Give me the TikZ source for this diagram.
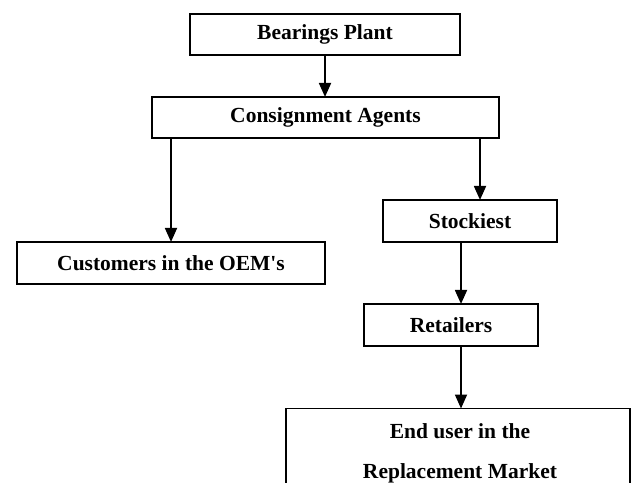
\documentclass[tikz,border=0pt]{standalone}
\usepackage{fontspec}
\setmainfont{Liberation Serif}
\usetikzlibrary{arrows.meta,calc}
\newcommand{\straightapos}{\XeTeXglyph\XeTeXcharglyph"0027\relax}
\begin{document}
\begin{tikzpicture}[x=1pt,y=-1pt,
  box/.style={draw=black,line width=1.1pt,fill=white,inner sep=0pt,font=\fontsize{21.5}{25}\selectfont\bfseries},
  lbl/.style={inner sep=0pt,font=\fontsize{21.5}{40}\selectfont\bfseries},
  arr/.style={draw=black,line width=1.8pt,-{Triangle[length=14pt,width=12pt]},shorten >=-0.5pt}]
\useasboundingbox (0,0) rectangle (631,482);
\fill[white] (0,0) rectangle (631,482);
\clip (0,0) rectangle (631,482);
\node[box,minimum width=270pt,minimum height=41pt] (bp) at (325,34.5) {Bearings Plant};
\node[box,minimum width=347pt,minimum height=41pt] (ca) at (325.5,117.5) {Consignment Agents};
\node[box,minimum width=308pt,minimum height=42pt] (cu) at (171,263) {Customers in the OEM\straightapos s};
\node[box,minimum width=174pt,minimum height=42pt] (st) at (470,221) {Stockiest};
\node[box,minimum width=174pt,minimum height=42pt] (re) at (451,325) {Retailers};
\node[box,minimum width=344pt,minimum height=100pt,anchor=north] (eu) at (458,408) {};
\node[lbl,align=center] (eut) at (460,453) {End user in the\\Replacement Market};
\draw[arr] (bp.south) -- (ca.north -| bp.south);
\draw[arr] (ca.south -| cu.north) -- (cu.north);
\draw[arr] ($(ca.south -| st.north)+(10,0)$) -- ($(st.north)+(10,0)$);
\draw[arr] ($(st.south -| re.north)+(10,0)$) -- ($(re.north)+(10,0)$);
\draw[arr] ($(re.south)+(10,0)$) -- ($(eu.north -| re.south)+(10,0)$);
\end{tikzpicture}
\end{document}
